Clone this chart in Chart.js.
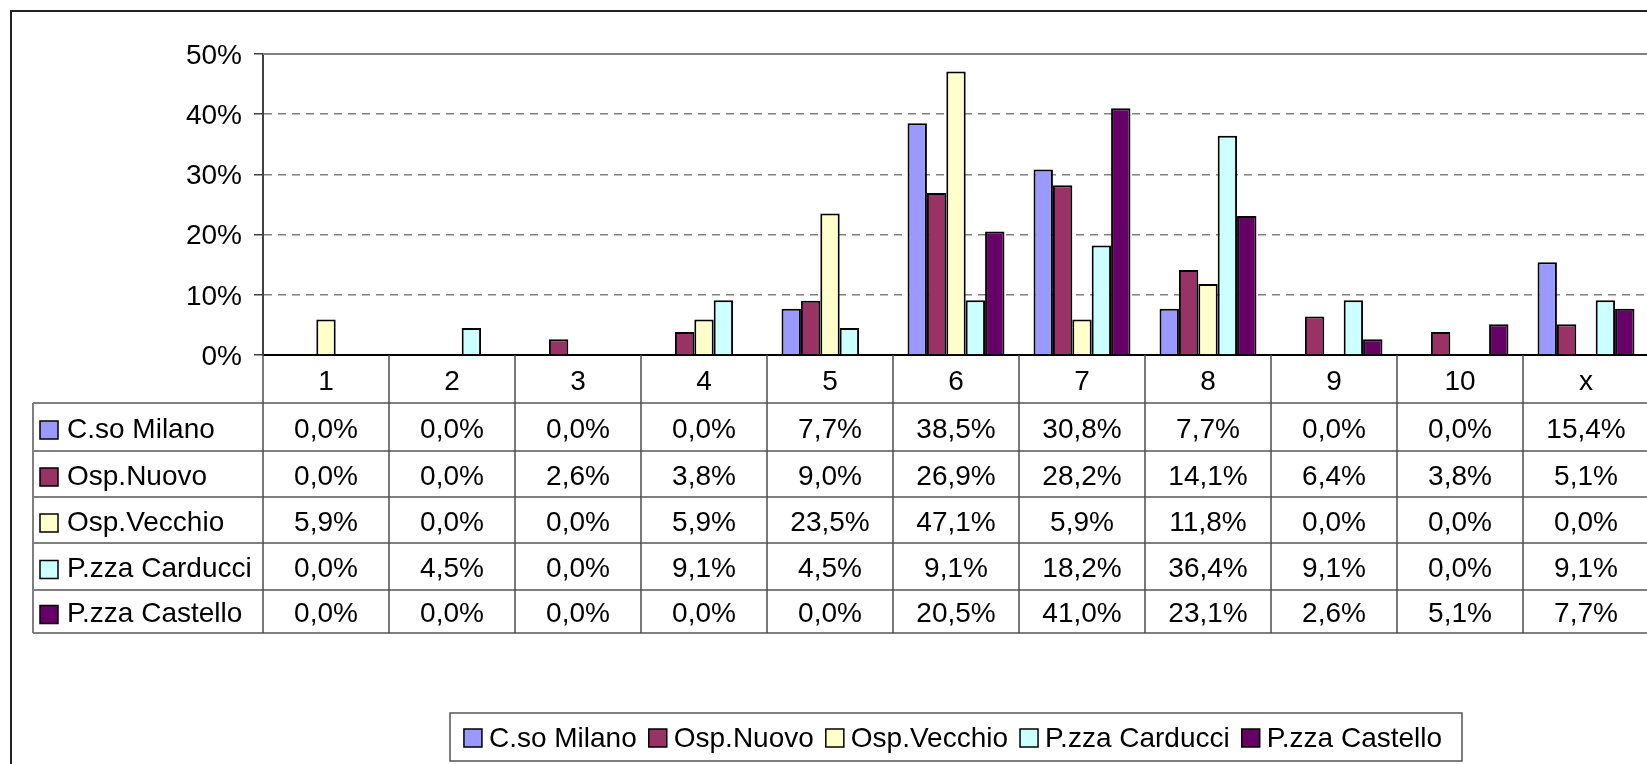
<!DOCTYPE html>
<html>
<head>
<meta charset="utf-8">
<style>
  html, body { margin: 0; padding: 0; background: #fff; overflow: hidden; }
  #wrap { position: absolute; left: 0; top: 0; }
</style>
</head>
<body>
<div id="wrap">
  <canvas id="chart" width="1680" height="764"></canvas>
</div>

<script src="https://cdn.jsdelivr.net/npm/chart.js"></script>
<script>
  // categories (voto) and share of answers per site, in percent
  const categories = ["1", "2", "3", "4", "5", "6", "7", "8", "9", "10", "x"];
  const seriesNames = ["C.so Milano", "Osp.Nuovo", "Osp.Vecchio", "P.zza Carducci", "P.zza Castello"];
  const csoMilano     = [0, 0, 0, 0, 7.7, 38.5, 30.8, 7.7, 0, 0, 15.4];
  const ospNuovo      = [0, 0, 2.6, 3.8, 9.0, 26.9, 28.2, 14.1, 6.4, 3.8, 5.1];
  const ospVecchio    = [5.9, 0, 0, 5.9, 23.5, 47.1, 5.9, 11.8, 0, 0, 0];
  const pzzaCarducci  = [0, 4.5, 0, 9.1, 4.5, 9.1, 18.2, 36.4, 9.1, 0, 9.1];
  const pzzaCastello  = [0, 0, 0, 0, 0, 20.5, 41.0, 23.1, 2.6, 5.1, 7.7];
  const yTicks = [0, 10, 20, 30, 40, 50];

  const colors = ["#9999FF", "#993366", "#FFFFCC", "#CCFFFF", "#660066"];
  const seriesValues = [csoMilano, ospNuovo, ospVecchio, pzzaCarducci, pzzaCastello];

  const FONT = "28px 'Liberation Sans', Arial, sans-serif";

  function pct(v) {
    return v.toFixed(1).replace(".", ",") + "%";
  }

  const excelFrame = {
    id: "excelFrame",
    beforeDatasetsDraw(chart) {
      const { ctx, chartArea: a } = chart;
      ctx.save();
      ctx.strokeStyle = "#808080";
      ctx.lineWidth = 2;
      ctx.beginPath();
      ctx.moveTo(a.left, a.top);
      ctx.lineTo(a.right, a.top);
      ctx.lineTo(a.right, a.bottom);
      ctx.stroke();
      ctx.restore();
    },
    afterDraw(chart) {
      const { ctx, chartArea: a } = chart;
      const x = chart.scales.x;
      const half = (x.getPixelForValue(1) - x.getPixelForValue(0)) / 2;
      const n = categories.length;
      // row edges below the axis: header row then one row per series
      const edges = [0, 48, 96, 142, 188, 235, 278].map(d => a.bottom + d);
      const tableLeft = 33;

      ctx.save();

      // outer chart border
      ctx.strokeStyle = "#222";
      ctx.lineWidth = 2;
      ctx.strokeRect(11, 11, 1800, 900);

      // horizontal table lines
      ctx.strokeStyle = "#7f7f7f";
      ctx.lineWidth = 2;
      for (let r = 1; r < edges.length; r++) {
        ctx.beginPath();
        ctx.moveTo(tableLeft, edges[r]);
        ctx.lineTo(x.right + 40, edges[r]);
        ctx.stroke();
      }
      ctx.beginPath();
      ctx.moveTo(tableLeft, edges[1]);
      ctx.lineTo(tableLeft, edges[edges.length - 1]);
      ctx.stroke();

      // vertical table lines at category boundaries
      ctx.strokeStyle = "#4d4d4d";
      ctx.lineWidth = 1.5;
      for (let i = 0; i <= n; i++) {
        const bx = Math.round(x.getPixelForValue(i) - half);
        ctx.beginPath();
        ctx.moveTo(bx, a.bottom);
        ctx.lineTo(bx, edges[edges.length - 1]);
        ctx.stroke();
      }

      // header labels and values
      ctx.fillStyle = "#000";
      ctx.font = FONT;
      ctx.textAlign = "center";
      ctx.textBaseline = "middle";
      categories.forEach((c, i) => {
        ctx.fillText(c, x.getPixelForValue(i), (edges[0] + edges[1]) / 2 + 3);
      });
      chart.data.datasets.forEach((ds, r) => {
        const yc = (edges[r + 1] + edges[r + 2]) / 2 + 3;
        ds.data.forEach((v, i) => {
          ctx.fillText(pct(v), x.getPixelForValue(i), yc);
        });
        // legend key + series name
        ctx.fillStyle = ds.backgroundColor;
        ctx.fillRect(40, yc - 9, 18, 18);
        ctx.strokeStyle = "#000";
        ctx.lineWidth = 1.5;
        ctx.strokeRect(40, yc - 9, 18, 18);
        ctx.fillStyle = "#000";
        ctx.textAlign = "left";
        ctx.fillText(ds.label, 67, yc);
        ctx.textAlign = "center";
      });

      // bottom legend
      const box = { x: 450, y: 713, w: 1012, h: 48 };
      ctx.strokeStyle = "#555";
      ctx.lineWidth = 1.5;
      ctx.strokeRect(box.x, box.y, box.w, box.h);
      ctx.font = FONT;
      ctx.textAlign = "left";
      const sq = 18, gapIn = 7, gapOut = 12;
      const widths = chart.data.datasets.map(ds => ctx.measureText(ds.label).width);
      const total = widths.reduce((s, w) => s + w + sq + gapIn, 0) + gapOut * (widths.length - 1);
      let lx = box.x + (box.w - total) / 2 - 3;
      const ly = box.y + box.h / 2 + 1;
      chart.data.datasets.forEach((ds, i) => {
        ctx.fillStyle = ds.backgroundColor;
        ctx.fillRect(lx, ly - sq / 2, sq, sq);
        ctx.strokeStyle = "#000";
        ctx.strokeRect(lx, ly - sq / 2, sq, sq);
        ctx.fillStyle = "#000";
        ctx.fillText(ds.label, lx + sq + gapIn, ly + 1);
        lx += sq + gapIn + widths[i] + gapOut;
      });

      ctx.restore();
    }
  };

  Chart.defaults.font.family = "'Liberation Sans', Arial, sans-serif";
  Chart.defaults.color = "#000";

  new Chart(document.getElementById("chart"), {
    type: "bar",
    data: {
      labels: categories,
      datasets: seriesNames.map((name, i) => ({
        label: name,
        data: seriesValues[i],
        backgroundColor: colors[i],
        borderColor: "#000",
        borderWidth: 2,
        categoryPercentage: 5 / 6.5,
        barPercentage: 1
      }))
    },
    options: {
      responsive: false,
      animation: false,
      layout: { padding: { left: 0, top: 54, right: 31, bottom: 0 } },
      plugins: {
        legend: { display: false },
        tooltip: { enabled: false }
      },
      scales: {
        x: {
          grid: { display: false },
          border: { display: true, color: "#000", width: 2 },
          ticks: { display: false },
          afterFit(axis) { axis.height = 409; }
        },
        y: {
          min: 0,
          max: 50,
          afterBuildTicks(axis) { axis.ticks = yTicks.map(v => ({ value: v })); },
          ticks: {
            font: { size: 28 },
            padding: 12,
            labelOffset: 2,
            callback: v => v + "%"
          },
          grid: {
            color: "#808080",
            lineWidth: 1.5,
            tickColor: "#404040",
            tickLength: 9,
            tickWidth: 1.5
          },
          border: { display: true, color: "#404040", width: 2, dash: [8, 6] },
          afterFit(axis) { axis.width = 263; }
        }
      }
    },
    plugins: [excelFrame]
  });
</script>
</body>
</html>
